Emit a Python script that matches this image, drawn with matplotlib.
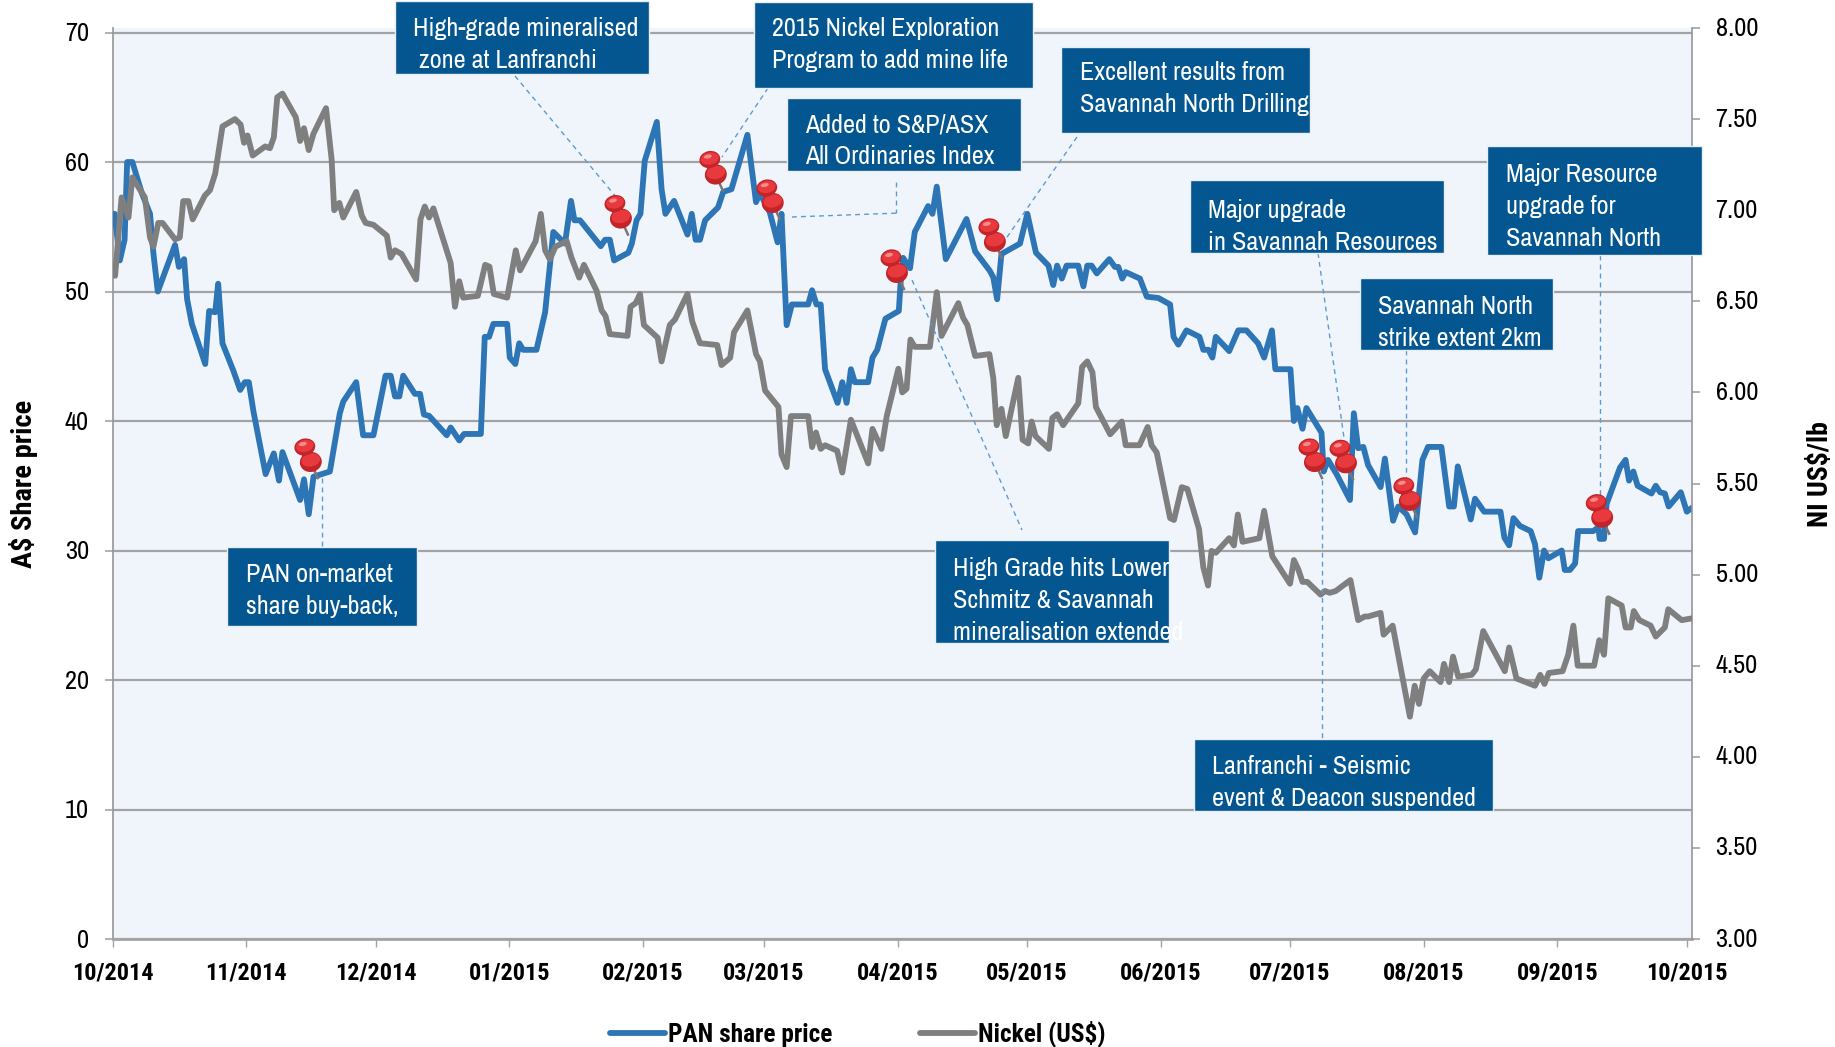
import matplotlib
matplotlib.use("Agg")
import matplotlib.pyplot as plt
from matplotlib import font_manager as fm
from matplotlib.patches import Rectangle, Ellipse
from matplotlib.lines import Line2D
from matplotlib.transforms import Affine2D

W, H = 1835, 1047


def pick(cands, weight):
    for c in cands:
        for f in fm.fontManager.ttflist:
            if f.name == c and (weight == 400 or f.weight == weight):
                return c
    return "Liberation Sans"


FONT = pick(["Archivo Narrow", "Roboto Condensed", "PT Sans Narrow"], 400)
BOLD = pick(["Roboto Condensed", "IBM Plex Sans Condensed", "PT Sans Narrow"], 700)
plt.rcParams["font.family"] = [FONT, "DejaVu Sans"]

# days since 1 Oct 2014
pan_days = [0.5,1.7,2.8,3.4,4.6,6.8,8.7,9.5,10.5,14.5,15.4,16.6,17.3,18.4,21.5,22.4,23.8,24.5,25.5,28.0,29.6,30.7,31.6,32.7,35.5,37.4,38.6,39.4,43.5,44.4,45.5,46.6,50.4,52.7,53.5,56.5,58.1,60.5,63.3,64.5,65.5,66.5,67.4,70.1,71.3,72.2,73.4,77.5,78.4,80.4,81.5,85.4,86.3,87.3,88.3,91.5,92.1,93.4,94.3,95.2,98.3,100.3,102.2,104.9,106.3,107.1,108.4,113.2,114.2,115.3,116.3,119.6,120.4,121.5,122.4,123.4,126.2,127.3,128.2,130.2,133.3,134.3,135.2,136.2,137.4,140.4,141.6,143.5,147.2,149.2,150.1,152.4,154.2,155.1,156.3,157.5,161.3,162.2,163.2,164.2,165.2,168.1,169.2,170.2,171.2,172.1,175.2,176.2,177.3,179.2,182.3,182.7,183.3,184.9,186.0,189.1,190.1,191.1,193.2,198.0,200.0,203.4,204.2,205.1,206.1,210.4,212.1,214.1,217.0,218.1,219.0,220.1,221.2,223.9,225.1,226.0,227.0,228.2,231.1,232.4,233.2,234.1,234.9,238.2,239.8,242.5,245.2,246.0,247.1,249.0,252.0,252.9,254.1,255.0,255.8,258.9,261.0,262.9,265.6,267.0,268.8,269.6,273.1,273.9,274.7,275.9,276.8,280.3,280.8,281.8,283.8,286.9,287.8,288.8,290.0,291.1,294.0,295.0,296.9,298.1,300.0,302.0,303.7,305.0,308.1,309.9,311.0,311.9,314.9,315.9,318.0,321.8,322.7,323.8,324.8,326.3,328.8,329.8,330.8,331.9,332.9,336.0,336.7,337.9,339.1,339.8,343.3,344.5,344.8,345.8,346.4,349.5,350.8,351.6,352.6,353.6,356.8,357.8,358.8,359.9,360.8,363.6,365.0,366.2]
pan_price = [56.0,52.4,54.0,60.0,60.0,57.6,56.0,52.9,50.0,53.6,51.9,52.5,49.4,47.5,44.4,48.5,48.4,50.6,46.0,43.9,42.4,43.0,43.0,40.7,35.9,37.5,35.4,37.6,33.9,35.5,32.8,35.7,36.1,40.6,41.5,43.0,38.9,38.9,43.5,43.5,41.9,41.9,43.5,42.1,42.1,40.5,40.4,38.9,39.5,38.5,39.0,39.0,46.5,46.5,47.5,47.5,44.9,44.4,46.0,45.5,45.5,48.4,54.6,53.7,57.0,55.5,55.5,53.5,54.0,54.0,52.4,53.0,53.7,55.5,56.0,60.1,63.1,57.9,56.0,57.0,54.4,56.0,54.0,54.0,55.5,56.5,57.7,57.9,62.1,56.9,57.6,56.1,53.8,56.0,47.4,49.0,49.0,50.1,49.0,49.0,44.0,41.4,43.0,41.4,44.0,43.0,43.0,44.9,45.5,47.9,48.5,50.6,52.6,51.8,54.6,56.6,56.0,58.1,52.5,55.6,53.1,51.6,51.1,49.4,52.9,53.7,56.0,53.0,52.0,50.5,52.0,51.0,52.0,52.0,50.4,52.0,52.0,51.4,52.5,51.9,51.9,51.0,51.5,51.0,49.6,49.5,49.0,46.5,45.9,47.0,46.5,45.5,45.5,44.9,46.5,45.4,47.0,47.0,46.0,44.9,47.0,44.0,44.0,40.0,41.0,39.4,41.0,39.1,36.1,37.0,35.9,33.9,40.6,37.9,38.0,36.6,34.9,37.1,32.3,33.4,32.8,31.4,37.0,38.0,38.0,33.4,33.4,36.5,32.4,34.0,33.0,33.0,31.0,30.4,32.5,31.9,31.5,30.5,27.9,30.0,29.4,30.0,28.5,28.5,29.0,31.5,31.5,31.8,30.9,30.9,33.6,36.4,37.0,35.4,36.1,35.0,34.4,35.0,34.5,34.4,33.4,34.5,33.0,33.3]

nickel_days = [0.6,2.1,3.7,4.6,7.5,8.7,9.5,10.6,11.6,14.5,15.6,16.4,17.6,18.6,21.4,22.6,23.8,25.5,28.4,29.7,30.5,31.3,32.5,35.4,36.5,37.4,38.2,39.4,42.5,43.5,44.4,45.5,46.6,49.5,50.8,51.4,52.6,53.5,56.5,57.8,58.7,60.5,63.6,64.5,65.5,67.0,70.4,71.4,72.4,73.4,74.4,78.4,79.4,80.4,81.3,84.7,86.4,87.4,88.4,91.5,93.5,94.5,98.1,99.3,100.3,101.4,102.7,105.3,106.4,108.2,109.3,112.2,113.4,114.3,115.3,119.4,120.1,121.3,122.3,123.2,126.4,127.3,129.2,130.4,133.3,134.4,136.2,140.2,141.2,143.2,144.1,147.2,149.2,150.1,151.3,154.4,155.1,156.3,157.3,161.3,162.2,163.1,164.2,165.2,168.0,169.2,171.2,175.2,176.2,178.3,179.5,182.2,183.1,184.1,185.0,186.0,189.5,191.1,192.2,196.1,197.2,198.2,200.0,203.3,204.2,205.0,206.1,207.1,210.0,211.0,212.3,213.1,214.0,217.1,217.9,219.0,220.4,223.9,224.8,226.0,227.2,228.0,231.3,234.0,234.9,238.1,240.0,240.9,242.1,245.2,246.1,247.9,249.2,251.9,252.9,254.0,254.8,255.8,258.9,260.0,260.9,262.0,265.9,267.0,268.9,273.0,273.9,274.9,275.9,277.0,280.1,281.1,282.2,283.6,287.0,288.8,290.3,291.1,294.0,294.7,296.8,300.8,301.9,302.9,304.0,305.4,307.9,308.7,309.9,310.8,312.0,315.1,316.1,317.8,322.8,323.8,325.5,329.8,331.0,332.0,333.0,336.2,337.5,338.7,339.7,343.5,344.7,345.8,346.8,349.9,350.8,352.0,352.7,354.0,356.6,357.8,359.9,360.7,363.8,366.2]
nickel_price = [6.64,7.07,6.96,7.18,7.07,6.85,6.80,6.93,6.93,6.84,6.85,7.05,7.05,6.95,7.08,7.11,7.20,7.46,7.50,7.47,7.37,7.41,7.30,7.35,7.34,7.40,7.62,7.64,7.51,7.38,7.45,7.33,7.42,7.56,7.28,7.00,7.04,6.96,7.10,6.97,6.93,6.92,6.86,6.74,6.78,6.76,6.62,6.95,7.02,6.96,7.01,6.71,6.47,6.61,6.52,6.53,6.70,6.69,6.54,6.52,6.78,6.67,6.83,6.98,6.78,6.73,6.80,6.83,6.74,6.63,6.70,6.56,6.45,6.42,6.32,6.31,6.47,6.49,6.54,6.37,6.30,6.17,6.37,6.40,6.54,6.39,6.27,6.26,6.15,6.19,6.33,6.45,6.21,6.17,6.01,5.92,5.66,5.59,5.87,5.87,5.70,5.78,5.69,5.71,5.68,5.56,5.85,5.61,5.80,5.69,5.87,6.13,6.00,6.02,6.29,6.25,6.25,6.55,6.31,6.49,6.41,6.37,6.20,6.21,6.08,5.82,5.91,5.76,6.08,5.74,5.72,5.84,5.76,5.69,5.86,5.88,5.82,5.94,6.14,6.17,6.11,5.92,5.77,5.84,5.71,5.71,5.81,5.71,5.67,5.31,5.30,5.48,5.47,5.25,5.04,4.94,5.13,5.12,5.20,5.16,5.33,5.18,5.20,5.35,5.10,4.95,5.08,5.03,4.96,4.96,4.89,4.91,4.90,4.91,4.97,4.75,4.77,4.77,4.79,4.67,4.72,4.22,4.39,4.29,4.43,4.47,4.41,4.51,4.41,4.55,4.44,4.45,4.48,4.69,4.47,4.60,4.43,4.39,4.45,4.40,4.46,4.47,4.56,4.72,4.50,4.50,4.64,4.56,4.87,4.83,4.71,4.71,4.80,4.75,4.72,4.66,4.71,4.81,4.75,4.76]

month_days = [0,31,61,92,123,151,182,212,243,273,304,335,365]
month_labels = ["10/2014","11/2014","12/2014","01/2015","02/2015","03/2015","04/2015","05/2015","06/2015","07/2015","08/2015","09/2015","10/2015"]
left_ticks = [0,10,20,30,40,50,60,70]
right_ticks = [3.0,3.5,4.0,4.5,5.0,5.5,6.0,6.5,7.0,7.5,8.0]

# pin tips, on the share price line
pin_days = [47.6,119.5,141.5,154.7,183.5,206.2,280.4,287.6,302.4,347.0]
pin_price = [35.6,54.4,57.8,55.6,50.2,52.6,35.6,35.5,32.6,31.3]

event_notes = [
    ["High-grade mineralised", " zone at Lanfranchi"],
    ["2015 Nickel Exploration", "Program to add mine life"],
    ["Added to S&P/ASX", "All Ordinaries Index"],
    ["Excellent results from", "Savannah North Drilling"],
    ["Major upgrade", "in Savannah Resources"],
    ["Savannah North", "strike extent 2km"],
    ["Major Resource", "upgrade for", "Savannah North"],
    ["PAN on-market", "share buy-back,"],
    ["High Grade hits Lower", "Schmitz & Savannah", "mineralisation extended"],
    ["Lanfranchi - Seismic", "event & Deacon suspended"],
]
# box x0, y0, x1, y1, text x, first-line y, line step (pixels from the top left)
box_layout = [
    (395,1,649,74,413,29,32), (754,2,1033,88,772,29,32), (787,98,1021,171,805,125,32),
    (1061,47,1310,133,1080,73,32), (1190,180,1444,253,1208,210,32), (1360,278,1553,350,1378,306,32),
    (1487,146,1702,255,1506,174,32), (227,547,417,626,246,575,32), (935,540,1169,643,953,568,32),
    (1194,739,1493,811,1212,767,32),
]
leaders = [
    [(515,76),(617,198)], [(768,88),(722,157)], [(896,182),(896,213)], [(792,217),(900,213)],
    [(1077,137),(1005,240)], [(912,280),(1022,530)], [(322,478),(322,547)], [(1322,480),(1322,739)],
    [(1318,253),(1345,445)], [(1406,350),(1406,510)], [(1600,255),(1600,520)],
]

BOX = "#03568f"
BLUE = "#2e75b6"
GREY = "#7f7f7f"
AXIS = "#a3a3a3"
BG = "#f0f5fc"
px = Affine2D().scale(1, -1).translate(0, H)

fig = plt.figure(figsize=(W/100, H/100), dpi=100, facecolor="white")
ax = fig.add_axes([112.5/W, (H-939)/H, (1692-112.5)/W, (939-28)/H], facecolor=BG)
ax.set_xlim(0, 366.2)
ax.set_ylim(0, 70.35)
ax.set_yticks(left_ticks)
ax.set_xticks(month_days)
ax.set_xticklabels(month_labels, fontfamily=BOLD, fontweight="bold", fontsize=17.5)
ax.tick_params(axis="x", length=6, width=1, color=AXIS, pad=10)
ax.tick_params(axis="y", length=6, width=1.2, color=AXIS, pad=11, labelsize=19)
ax.grid(axis="y", color=AXIS, lw=1.6, zorder=1)
ax.set_axisbelow(True)
ax.spines["top"].set_visible(False)
ax.spines["right"].set_visible(False)
ax.spines["left"].set_color("#969696")
ax.spines["left"].set_linewidth(1.2)
ax.spines["bottom"].set_color(AXIS)
ax.spines["bottom"].set_linewidth(2)
pan_line, = ax.plot(pan_days, pan_price, color=BLUE, lw=4.2, solid_joinstyle="round", solid_capstyle="round", label="PAN share price", zorder=3)

ax2 = ax.twinx()
ax2.set_ylim(3, 8)
ax2.set_yticks(right_ticks)
ax2.set_yticklabels([f"{t:.2f}" for t in right_ticks])
ax2.tick_params(axis="y", length=6, width=1.2, color=AXIS, pad=11, labelsize=19)
for k in ("top", "left", "bottom"):
    ax2.spines[k].set_visible(False)
ax2.spines["right"].set_color("#969696")
ax2.spines["right"].set_linewidth(1.2)
ni_line, = ax2.plot(nickel_days, nickel_price, color=GREY, lw=4.2, solid_joinstyle="round", solid_capstyle="round", label="Nickel (US$)", zorder=3)

for lab in ax.get_yticklabels():
    lab.set_transform(lab.get_transform() + Affine2D().translate(0, 1))
for lab in ax2.get_yticklabels():
    lab.set_transform(lab.get_transform() + Affine2D().translate(0, 2))

fig.text(24/W, 1-484/H, "A$ Share price", rotation=90, ha="center", va="center", fontsize=20.5, fontweight="bold", fontfamily=BOLD)
fig.text(1820/W, 1-474/H, "NI US$/lb", rotation=90, ha="center", va="center", fontsize=20, fontweight="bold", fontfamily=BOLD)

fig.legend(handles=[pan_line, ni_line], loc="center", bbox_to_anchor=(858/W, 1-1034/H), ncol=2, frameon=False,
           prop={"weight": "bold", "size": 18.3, "family": BOLD}, handlelength=2.15, handletextpad=0.12, columnspacing=3.45, borderpad=0)

for seg in leaders:
    xs, ys = zip(*seg)
    fig.add_artist(Line2D(xs, ys, transform=px, color="#5b9bd5", lw=1.0, ls=(0, (3.5, 3)), zorder=5))

# pins, placed by their tips
tips = ax.transData.transform(list(zip(pin_days, pin_price)))
for tx, ty in tips:
    ty = H - ty
    def ell(dx, dy, w, h, c, a=-12):
        fig.add_artist(Ellipse((tx+dx, ty+dy), w, h, angle=a, transform=px, fc=c, ec="none", zorder=6))
    fig.add_artist(Line2D([tx-5, tx], [ty-11, ty], transform=px, color="#777777", lw=1.8, zorder=6))
    fig.add_artist(Line2D([tx-13, tx-7], [ty-30, ty-16], transform=px, color="#b5201f", lw=8, solid_capstyle="round", zorder=6))
    ell(-7, -16, 22, 20, "#c32428")
    ell(-7, -18, 19, 13, "#e8393e")
    ell(-13, -31, 21, 17, "#c32428")
    ell(-13, -32, 18, 12, "#e8393e")
    ell(-15, -34, 8, 4, "#f58a8a")

for note, (x0, y0, x1, y1, tx, ty, step) in zip(event_notes, box_layout):
    fig.add_artist(Rectangle((x0, y0), x1-x0, y1-y0, transform=px, fc=BOX, ec="#e8eef5", lw=1.0, zorder=7))
    for i, line in enumerate(note):
        fig.text(tx, ty+i*step, line, transform=px, color="white", fontsize=18.8, ha="left", va="center", zorder=8)

fig.savefig("out.png", dpi=100)
